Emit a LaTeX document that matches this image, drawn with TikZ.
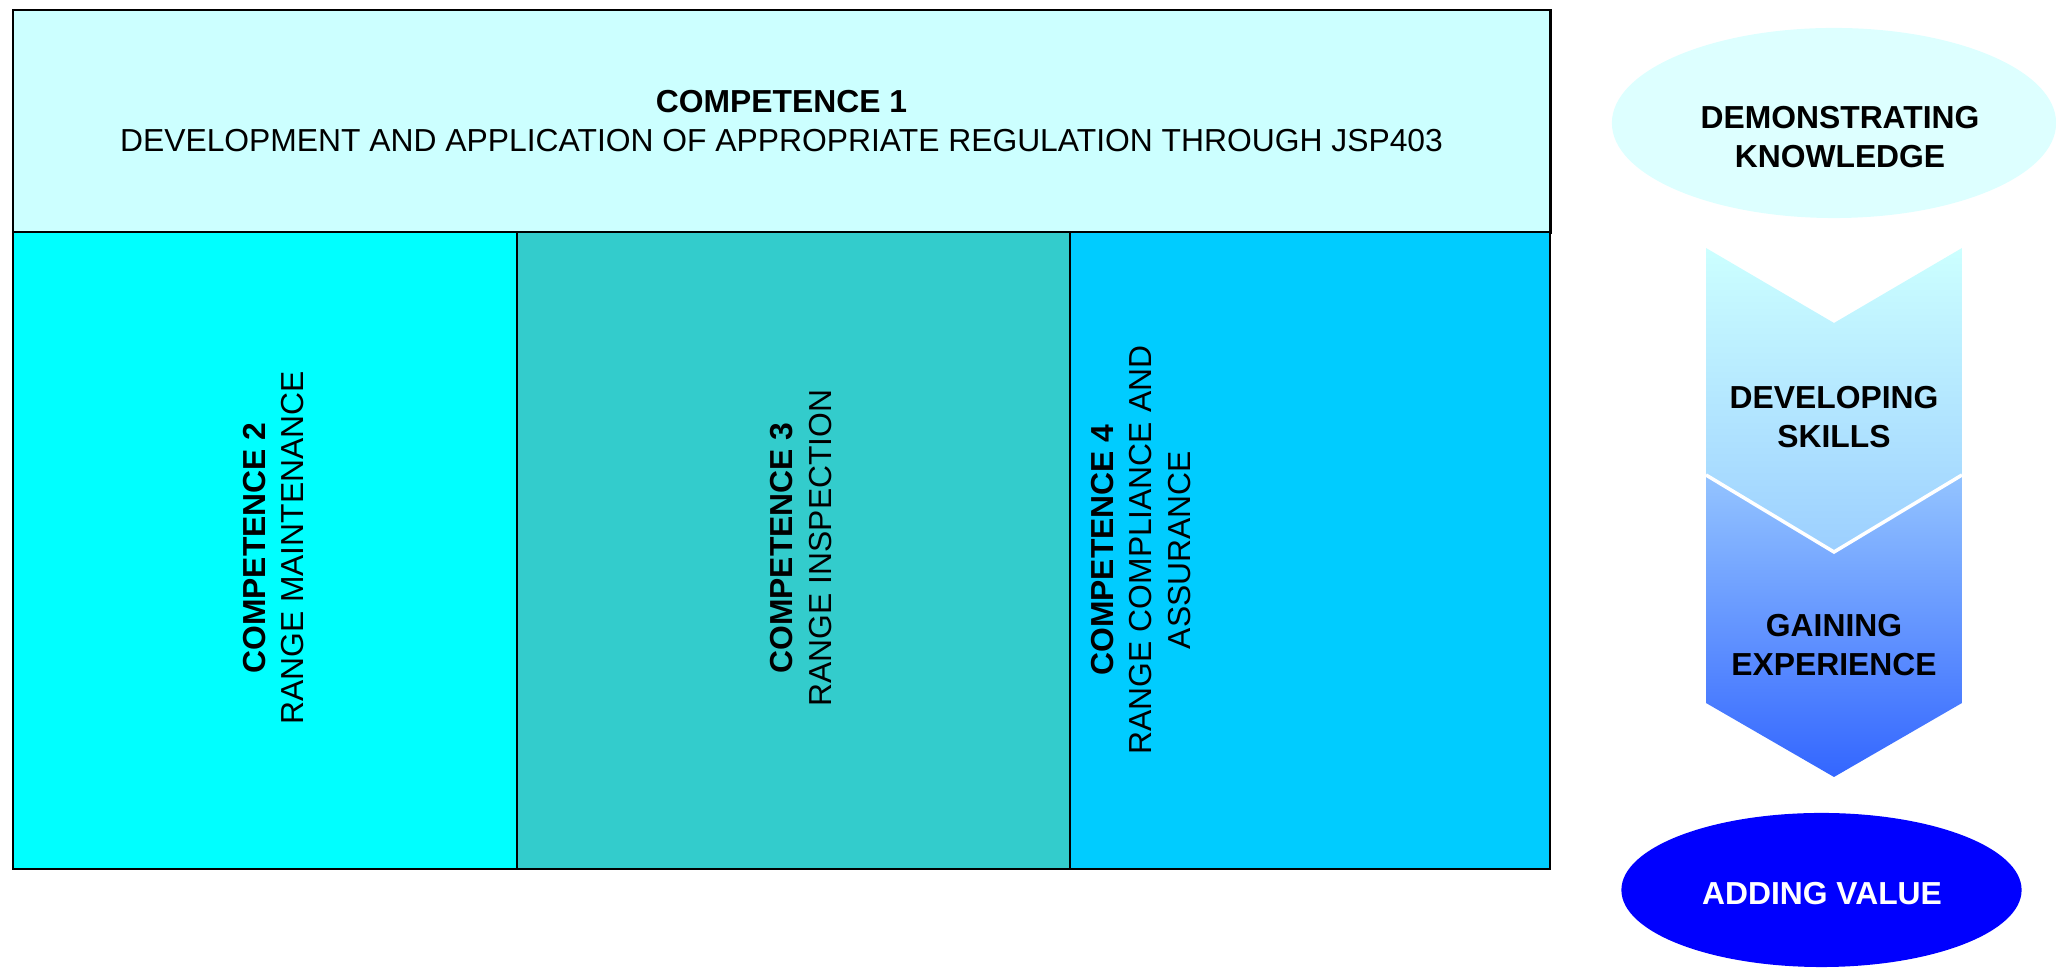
\documentclass[tikz,border=0pt]{standalone}
\usepackage{fontspec}
\setmainfont{Liberation Sans}
\usetikzlibrary{shapes.geometric}
\definecolor{ctop}{HTML}{CCFFFF}
\definecolor{ctwo}{HTML}{00FFFF}
\definecolor{cthree}{HTML}{33CCCC}
\definecolor{cfour}{HTML}{00CCFF}
\definecolor{cell}{HTML}{DDFFFF}
\definecolor{cblue}{HTML}{0000FF}
\definecolor{chA}{HTML}{CCFFFF}
\definecolor{chB}{HTML}{9CCFFF}
\definecolor{chC}{HTML}{94C4FF}
\definecolor{chD}{HTML}{3366FF}
\tikzset{
  compbox/.style={draw=black, line width=0.6pt, inner sep=0pt},
  txt/.style={font=\fontsize{9.05}{11}\selectfont, align=center, inner sep=0pt},
}
\begin{document}
\begin{tikzpicture}[x=0.01cm, y=-0.01cm]
\useasboundingbox (0,0) rectangle (2056,968);
% main boxes
\node (c1) [compbox, fill=ctop, minimum width=15.37cm, minimum height=2.225cm] at (781.5,121.25) {};
\node (c2) [compbox, fill=ctwo, minimum width=5.04cm, minimum height=6.365cm] at (265,550.75) {};
\node (c3) [compbox, fill=cthree, minimum width=5.53cm, minimum height=6.365cm] at (793.5,550.75) {};
\node (c4) [compbox, fill=cfour, minimum width=4.80cm, minimum height=6.365cm] at (1310,550.75) {};
% texts
\node (t1) [txt] at (781.5,121) {\textbf{COMPETENCE 1}\\DEVELOPMENT AND APPLICATION OF APPROPRIATE REGULATION THROUGH JSP403};
\node (t2) [txt, rotate=90] at (273.5,548) {\textbf{COMPETENCE 2}\\RANGE MAINTENANCE};
\node (t3) [txt, rotate=90] at (801,548) {\textbf{COMPETENCE 3}\\RANGE INSPECTION};
\node (t4) [txt, rotate=90] at (1141,550) {\textbf{COMPETENCE 4}\\RANGE COMPLIANCE AND\\ASSURANCE};
% right side
\node (dk) [ellipse, fill=cell, minimum width=4.44cm, minimum height=1.90cm, inner sep=0pt] at (1834,123) {};
\node (dkt) [txt] at (1840,137) {\textbf{DEMONSTRATING}\\\textbf{KNOWLEDGE}};
\shade[top color=chA, bottom color=chB] (1706,248) -- (1834,323) -- (1962,248) -- (1962,475) -- (1834,552) -- (1706,475) -- cycle;
\shade[top color=chC, bottom color=chD] (1706,475) -- (1834,552) -- (1962,475) -- (1962,703) -- (1834,777) -- (1706,703) -- cycle;
\coordinate (wl) at (1706,475);
\coordinate (wm) at (1834,552);
\coordinate (wr) at (1962,475);
\draw[white, line width=1pt] (wl) -- (wm) -- (wr);
\node (ds) [txt] at (1834,417) {\textbf{DEVELOPING}\\\textbf{SKILLS}};
\node (ge) [txt] at (1834,645) {\textbf{GAINING}\\\textbf{EXPERIENCE}};
\node (av) [ellipse, fill=cblue, minimum width=4.0cm, minimum height=1.54cm, inner sep=0pt] at (1821.5,890) {};
\node (avt) [txt, text=white] at (1822,894) {\textbf{ADDING VALUE}};
\end{tikzpicture}
\end{document}
